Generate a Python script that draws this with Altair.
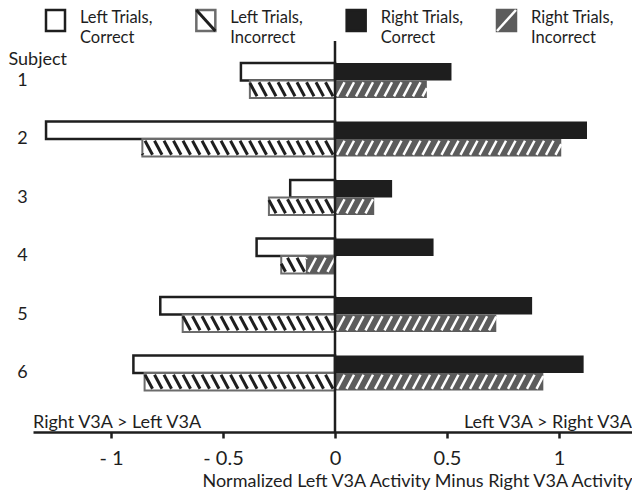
import altair as alt
import pandas as pd
import numpy as np

# ---- data ----
subjects = [1, 2, 3, 4, 5, 6]
left_correct = [-0.42, -1.29, -0.20, -0.35, -0.78, -0.90]
left_incorrect = [-0.38, -0.86, -0.295, -0.24, -0.68, -0.85]
right_correct = [0.52, 1.125, 0.255, 0.44, 0.88, 1.11]
right_incorrect = [0.41, 1.01, 0.175, -0.13, 0.72, 0.93]

series_names = ["LC", "LI", "RC", "RI"]
legend_labels = ["Left Trials,\nCorrect", "Left Trials,\nIncorrect",
                 "Right Trials,\nCorrect", "Right Trials,\nIncorrect"]
tick_values = [-1, -0.5, 0, 0.5, 1]
x_title = "Normalized Left V3A Activity Minus Right V3A Activity"
left_note = "Right V3A > Left V3A"
right_note = "Left V3A > Right V3A"

FONT = "Lato"
BLACK = "#1e1e1e"
GRAY = "#5c5c5c"
GRAY_EDGE = "#6c6c6c"
HALF = 0.3  # bar thickness in row units

W, H = 599, 391
PX_PER_UNIT = 224.0
X_MIN = -302 / PX_PER_UNIT

# ---- build tables ----
rows = []
for s, lc, li, rc, ri in zip(subjects, left_correct, left_incorrect, right_correct, right_incorrect):
    rows.append(dict(subject=s, series="LC", value=lc, zero=0, y0=s - HALF, y1=s))
    rows.append(dict(subject=s, series="RC", value=rc, zero=0, y0=s - HALF, y1=s))
    rows.append(dict(subject=s, series="LI", value=li, zero=0, y0=s, y1=s + HALF))
    rows.append(dict(subject=s, series="RI", value=ri, zero=0, y0=s, y1=s + HALF))
bars = pd.DataFrame(rows)

PERIOD = 9.5 / PX_PER_UNIT
RUN = 7.5 / PX_PER_UNIT


def stripes(series, values, direction):
    out = []
    for s, v in zip(subjects, values):
        a, b = min(0.0, v), max(0.0, v)
        yt, yb = s + 0.03, s + HALF - 0.03
        k0 = int(np.floor((a - RUN) / PERIOD)) - 1
        k1 = int(np.ceil((b + RUN) / PERIOD)) + 1
        for k in range(k0, k1 + 1):
            xt = k * PERIOD
            xb = xt + direction * RUN
            d = xb - xt
            ta, tb = (a - xt) / d, (b - xt) / d
            lo, hi = max(0.0, min(ta, tb)), min(1.0, max(ta, tb))
            if hi - lo > 0.05:
                out.append(dict(series=series,
                                xs=xt + d * lo, xe=xt + d * hi,
                                ys=yt + (yb - yt) * lo, ye=yt + (yb - yt) * hi))
    return out


hatch = pd.DataFrame(stripes("LI", left_incorrect, 1) + stripes("RI", right_incorrect, -1))

legend_df = pd.DataFrame({"series": series_names, "label": legend_labels,
                          "idx": list(range(len(series_names)))})

# ---- scales / axes ----
xscale = alt.Scale(domain=[X_MIN, X_MIN + W / PX_PER_UNIT], nice=False, zero=False)
yscale = alt.Scale(domain=[0.3248, 0.3248 + H / 58.5], nice=False, zero=False, reverse=True)

xaxis = alt.Axis(values=tick_values,
                 labelExpr="datum.value < 0 ? '- ' + format(-datum.value, '') : format(datum.value, '')",
                 title=x_title, titleFontWeight="normal", titleAlign="right",
                 titleBaseline="alphabetic", titleX=W, titleY=54,
                 titleFontSize=18, titleFont=FONT, titleColor=BLACK,
                 labelFontSize=20, labelFont=FONT, labelColor=BLACK, labelPadding=10,
                 tickSize=6, tickWidth=2.5, tickColor=BLACK,
                 domainColor=BLACK, domainWidth=2.5, grid=False, labelFlush=False)
yaxis = alt.Axis(values=subjects, format="d", domain=False, ticks=False, tickSize=0,
                 grid=False, labelAlign="center", labelPadding=11, labelFontSize=18,
                 labelFont=FONT, labelColor=BLACK,
                 title="Subject", titleAngle=0, titleAlign="left", titleBaseline="alphabetic",
                 titleX=-25, titleY=23, titleFontSize=18, titleFont=FONT,
                 titleFontWeight="normal", titleColor=BLACK)

X = alt.X("value:Q", scale=xscale, axis=xaxis)
Y = alt.Y("y0:Q", scale=yscale, axis=yaxis)

base = alt.Chart(bars)


def bar_layer(name, **mark):
    return base.transform_filter(alt.datum.series == name).mark_rect(**mark).encode(
        x=X, x2="zero:Q", y=Y, y2="y1:Q")


lc = bar_layer("LC", fill="white", stroke=BLACK, strokeWidth=2.5)
rc = bar_layer("RC", fill=BLACK)
li = bar_layer("LI", fill="white", stroke=GRAY_EDGE, strokeWidth=2)
ri = bar_layer("RI", fill=GRAY)


def hatch_layer(name, color, width):
    return alt.Chart(hatch).transform_filter(alt.datum.series == name).mark_rule(
        color=color, strokeWidth=width, strokeCap="butt").encode(
        x=alt.X("xs:Q", scale=xscale, axis=xaxis), x2="xe:Q",
        y=alt.Y("ys:Q", scale=yscale, axis=yaxis), y2="ye:Q")


li_h = hatch_layer("LI", BLACK, 3)
ri_h = hatch_layer("RI", "white", 2.5)

zero_line = alt.Chart(bars).transform_aggregate(n="count()").mark_rule(
    color=BLACK, strokeWidth=2.5).encode(x=alt.datum(0, scale=xscale, axis=xaxis))

notes = alt.Chart(pd.DataFrame({"t": [left_note]})).mark_text(
    align="left", baseline="alphabetic", fontSize=18, font=FONT, color=BLACK).encode(
    text="t:N", x=alt.value(0), y=alt.value(H - 4))
notes2 = alt.Chart(pd.DataFrame({"t": [right_note]})).mark_text(
    align="right", baseline="alphabetic", fontSize=18, font=FONT, color=BLACK).encode(
    text="t:N", x=alt.value(W), y=alt.value(H - 4))

main = alt.layer(lc, rc, li, li_h, ri, ri_h, zero_line, notes, notes2)

# ---- manual legend ----
lx = alt.X("idx:Q", scale=alt.Scale(domain=[0, 3], range=[13, 464]), axis=None)
lfill = alt.Fill("series:N", scale=alt.Scale(domain=series_names,
                 range=["white", "white", BLACK, GRAY]), legend=None)
lstroke = alt.Stroke("series:N", scale=alt.Scale(domain=series_names,
                     range=[BLACK, GRAY_EDGE, BLACK, GRAY]), legend=None)
lbase = alt.Chart(legend_df)
lsq = lbase.mark_rect(x2Offset=19, strokeWidth=2.5).encode(
    x=lx, x2="idx:Q", y=alt.value(-31), y2=alt.value(-10), fill=lfill, stroke=lstroke)
ldiag1 = lbase.transform_filter(alt.datum.series == "LI").mark_rule(
    x2Offset=19, color=BLACK, strokeWidth=3).encode(
    x=lx, x2="idx:Q", y=alt.value(-31), y2=alt.value(-10))
ldiag2 = lbase.transform_filter(alt.datum.series == "RI").mark_rule(
    x2Offset=19, color="white", strokeWidth=2.5).encode(
    x=lx, x2="idx:Q", y=alt.value(-10), y2=alt.value(-31))
ltext = lbase.mark_text(align="left", baseline="alphabetic", dx=34, lineBreak="\n",
                        lineHeight=20, fontSize=16.5, font=FONT, color=BLACK).encode(
    x=lx, y=alt.value(-18), text="label:N")
legend = alt.layer(lsq, ldiag1, ldiag2, ltext)

chart = alt.layer(main, legend).resolve_scale(x="independent", fill="independent",
                                             stroke="independent").properties(
    width=W, height=H, autosize="none",
    padding={"left": 25, "top": 33, "right": 0, "bottom": 58},
    background="white",
).configure_view(stroke=None)

chart.save("out.html", embed_options={"renderer": "svg", "actions": False})
